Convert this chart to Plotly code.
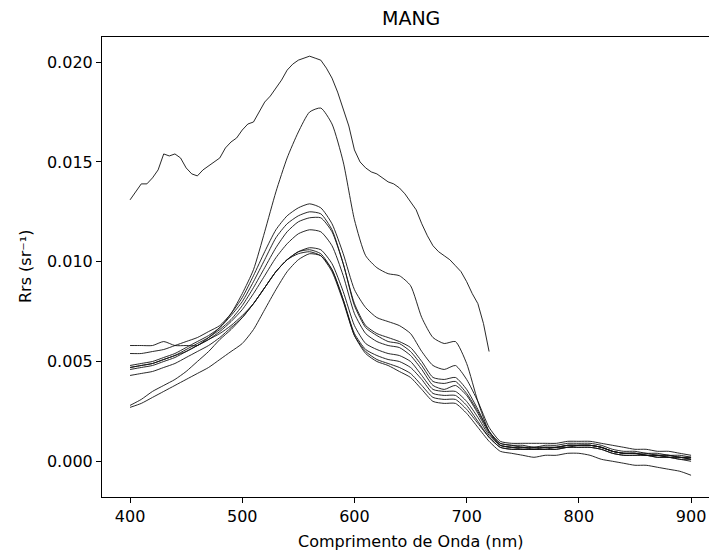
import plotly.graph_objects as go

# Wavelengths (nm)
wl = list(range(400, 901, 10))
wl_a = list(range(400, 721, 5))

# Curve A (only up to 720 nm)
rrs_a = [0.0131, 0.0135, 0.0139, 0.0139, 0.0142, 0.0146, 0.0154, 0.0153, 0.0154, 0.0152,
         0.0147, 0.0144, 0.0143, 0.0146, 0.0148, 0.0150, 0.0152, 0.0157, 0.0160, 0.0162,
         0.0166, 0.0169, 0.0170, 0.0175, 0.0180, 0.0183, 0.0187, 0.0191, 0.0196, 0.0199,
         0.0201, 0.0202, 0.0203, 0.0202, 0.0201, 0.0197, 0.0192, 0.0185, 0.0177, 0.0168,
         0.0156, 0.0150, 0.0147, 0.0145, 0.0144, 0.0142, 0.0140, 0.0139, 0.0137, 0.0134,
         0.0130, 0.0126, 0.0119, 0.0113, 0.0108, 0.0105, 0.0103, 0.0101, 0.0098, 0.0095,
         0.0090, 0.0084, 0.0079, 0.0069, 0.0055]

rrs_b = [0.0058, 0.0058, 0.0058, 0.0060, 0.0058, 0.0058, 0.0058, 0.0062, 0.0067, 0.0074,
         0.0084, 0.0096, 0.0115, 0.0135, 0.0152, 0.0165, 0.0175, 0.0177, 0.0169, 0.0150,
         0.0121, 0.0103, 0.0097, 0.0094, 0.0093, 0.0088, 0.0072, 0.0062, 0.0059, 0.0060,
         0.0049, 0.0030, 0.0015, 0.0009, 0.0008, 0.0008, 0.0007, 0.0008, 0.0008, 0.0009,
         0.0009, 0.0009, 0.0008, 0.0006, 0.0005, 0.0005, 0.0004, 0.0004, 0.0003, 0.0003,
         0.0002]

rrs_p1 = [0.0054, 0.0054, 0.0055, 0.0056, 0.0058, 0.0060, 0.0062, 0.0065, 0.0068, 0.0074,
          0.0082, 0.0093, 0.0105, 0.0116, 0.0123, 0.0127, 0.0129, 0.0127, 0.0119, 0.0104,
          0.0086, 0.0077, 0.0072, 0.0070, 0.0068, 0.0064, 0.0055, 0.0048, 0.0046, 0.0048,
          0.0041, 0.0030, 0.0017, 0.0010, 0.0009, 0.0009, 0.0009, 0.0009, 0.0009, 0.0010,
          0.0010, 0.0010, 0.0009, 0.0008, 0.0007, 0.0006, 0.0006, 0.0005, 0.0005, 0.0004,
          0.0003]

rrs_p2 = [0.0048, 0.0049, 0.0050, 0.0052, 0.0054, 0.0057, 0.0060, 0.0063, 0.0067, 0.0073,
          0.0080, 0.0090, 0.0101, 0.0112, 0.0119, 0.0123, 0.0125, 0.0124, 0.0116, 0.0099,
          0.0079, 0.0068, 0.0064, 0.0062, 0.0060, 0.0057, 0.0050, 0.0042, 0.0041, 0.0042,
          0.0036, 0.0026, 0.0015, 0.0009, 0.0008, 0.0007, 0.0007, 0.0007, 0.0007, 0.0008,
          0.0008, 0.0008, 0.0007, 0.0005, 0.0004, 0.0004, 0.0004, 0.0003, 0.0003, 0.0002,
          0.0002]

rrs_p3 = [0.0047, 0.0048, 0.0049, 0.0051, 0.0053, 0.0056, 0.0059, 0.0062, 0.0066, 0.0071,
          0.0078, 0.0087, 0.0097, 0.0107, 0.0115, 0.0120, 0.0122, 0.0122, 0.0115, 0.0099,
          0.0078, 0.0067, 0.0063, 0.0060, 0.0059, 0.0055, 0.0048, 0.0040, 0.0039, 0.0040,
          0.0034, 0.0025, 0.0015, 0.0008, 0.0007, 0.0007, 0.0007, 0.0007, 0.0007, 0.0008,
          0.0008, 0.0008, 0.0007, 0.0005, 0.0004, 0.0004, 0.0003, 0.0003, 0.0003, 0.0002,
          0.0002]

rrs_p4 = [0.0046, 0.0047, 0.0048, 0.0050, 0.0052, 0.0055, 0.0058, 0.0061, 0.0065, 0.0070,
          0.0076, 0.0084, 0.0093, 0.0102, 0.0109, 0.0114, 0.0116, 0.0115, 0.0108, 0.0093,
          0.0074, 0.0064, 0.0060, 0.0058, 0.0057, 0.0053, 0.0046, 0.0038, 0.0036, 0.0038,
          0.0033, 0.0024, 0.0014, 0.0008, 0.0007, 0.0006, 0.0006, 0.0006, 0.0007, 0.0007,
          0.0008, 0.0008, 0.0007, 0.0005, 0.0004, 0.0004, 0.0003, 0.0003, 0.0002, 0.0002,
          0.0001]

rrs_p5 = [0.0043, 0.0044, 0.0045, 0.0047, 0.0049, 0.0052, 0.0055, 0.0058, 0.0062, 0.0067,
          0.0072, 0.0079, 0.0087, 0.0095, 0.0101, 0.0105, 0.0107, 0.0106, 0.0099, 0.0085,
          0.0068, 0.0059, 0.0056, 0.0054, 0.0053, 0.0050, 0.0043, 0.0036, 0.0035, 0.0035,
          0.0030, 0.0022, 0.0013, 0.0008, 0.0007, 0.0007, 0.0006, 0.0007, 0.0007, 0.0008,
          0.0008, 0.0008, 0.0007, 0.0005, 0.0004, 0.0004, 0.0003, 0.0003, 0.0002, 0.0002,
          0.0001]

rrs_p6 = [0.0047, 0.0048, 0.0049, 0.0051, 0.0053, 0.0055, 0.0058, 0.0061, 0.0064, 0.0068,
          0.0073, 0.0079, 0.0087, 0.0095, 0.0101, 0.0105, 0.0106, 0.0104, 0.0096, 0.0081,
          0.0064, 0.0056, 0.0053, 0.0051, 0.0050, 0.0047, 0.0041, 0.0034, 0.0033, 0.0033,
          0.0028, 0.0020, 0.0012, 0.0007, 0.0006, 0.0006, 0.0006, 0.0006, 0.0006, 0.0007,
          0.0007, 0.0007, 0.0006, 0.0004, 0.0003, 0.0003, 0.0003, 0.0002, 0.0002, 0.0001,
          0.0000]

rrs_p7 = [0.0028, 0.0031, 0.0035, 0.0038, 0.0041, 0.0045, 0.0050, 0.0055, 0.0061, 0.0066,
          0.0072, 0.0079, 0.0087, 0.0095, 0.0101, 0.0104, 0.0105, 0.0103, 0.0095, 0.0080,
          0.0063, 0.0055, 0.0051, 0.0049, 0.0047, 0.0044, 0.0038, 0.0032, 0.0031, 0.0031,
          0.0026, 0.0019, 0.0012, 0.0007, 0.0006, 0.0006, 0.0006, 0.0006, 0.0006, 0.0007,
          0.0007, 0.0007, 0.0006, 0.0004, 0.0003, 0.0003, 0.0003, 0.0002, 0.0002, 0.0001,
          0.0001]

rrs_p8 = [0.0027, 0.0029, 0.0032, 0.0035, 0.0038, 0.0041, 0.0044, 0.0047, 0.0051, 0.0055,
          0.0059, 0.0066, 0.0076, 0.0086, 0.0095, 0.0101, 0.0104, 0.0103, 0.0096, 0.0081,
          0.0063, 0.0054, 0.0050, 0.0048, 0.0045, 0.0042, 0.0036, 0.0030, 0.0029, 0.0029,
          0.0024, 0.0017, 0.0010, 0.0005, 0.0004, 0.0003, 0.0002, 0.0003, 0.0003, 0.0004,
          0.0004, 0.0003, 0.0001, 0.0000, -0.0001, -0.0002, -0.0002, -0.0003, -0.0004, -0.0005,
          -0.0007]

series = [rrs_b, rrs_p1, rrs_p2, rrs_p3, rrs_p4, rrs_p5, rrs_p6, rrs_p7, rrs_p8]

x_ticks = [400, 500, 600, 700, 800, 900]
y_ticks = [0.000, 0.005, 0.010, 0.015, 0.020]
y_tick_text = ["0.000", "0.005", "0.010", "0.015", "0.020"]

FONT = "DejaVu Sans"
LINE = dict(color="#111111", width=0.9)

fig = go.Figure()
fig.add_trace(go.Scatter(x=wl_a, y=rrs_a, mode="lines", line=LINE, showlegend=False,
                         hoverinfo="skip"))
for s in series:
    fig.add_trace(go.Scatter(x=wl, y=s, mode="lines",
                             line=dict(color="#111111", width=0.9, shape="spline", smoothing=0.6),
                             showlegend=False, hoverinfo="skip"))

L, T, B = 102, 37, 55
W, H = 709, 552
pw = W - L
ph = H - T - B
cx = (410.5 - L) / pw

fig.update_layout(
    width=W, height=H,
    margin=dict(l=L, r=0, t=T, b=B, pad=0),
    plot_bgcolor="white", paper_bgcolor="white",
    font=dict(family=FONT, size=16, color="black"),
    xaxis=dict(range=[375, 916], tickvals=x_ticks, ticks="outside", ticklen=5, tickwidth=1,
               tickcolor="black", showline=True, linecolor="black", linewidth=1.1,
               mirror=True, showgrid=False, zeroline=False,
               tickfont=dict(family=FONT, size=16)),
    yaxis=dict(range=[-0.00179, 0.02126], tickvals=y_ticks, ticktext=y_tick_text,
               ticks="outside", ticklen=5, tickwidth=1, tickcolor="black",
               showline=True, linecolor="black", linewidth=1.1, mirror=False,
               showgrid=False, zeroline=False, tickfont=dict(family=FONT, size=16)),
    annotations=[
        dict(text="MANG", x=cx, y=1 + (T - 18) / ph, xref="paper", yref="paper",
             xanchor="center", yanchor="middle", showarrow=False,
             font=dict(family=FONT, size=19, color="black")),
        dict(text="Comprimento de Onda (nm)", x=cx, y=-(541 - (T + ph)) / ph,
             xref="paper", yref="paper", xanchor="center", yanchor="middle",
             showarrow=False, font=dict(family=FONT, size=16, color="black")),
        dict(text="Rrs (sr⁻¹)", x=(25 - L) / pw, y=0.5, xref="paper", yref="paper",
             xanchor="center", yanchor="middle", textangle=-90, showarrow=False,
             font=dict(family=FONT, size=16, color="black")),
    ],
)

fig.write_html("out.html")
